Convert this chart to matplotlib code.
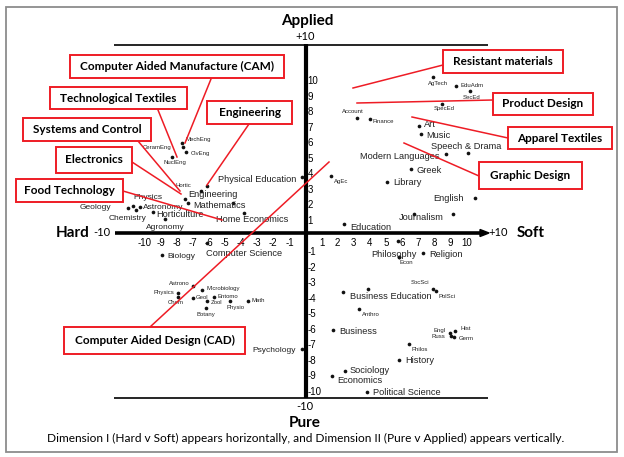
import matplotlib
matplotlib.use("Agg")
import matplotlib.pyplot as plt
from matplotlib.patches import Rectangle, Polygon

# ---------------- data (Hard(-)/Soft(+) , Pure(-)/Applied(+)) ----------------
subjects = [
    "MechEng", "CeramEng", "CivEng", "NuclEng", "Physical Education", "Hortic",
    "Engineering", "", "Mathematics", "", "Home Economics", "Geology", "Physics",
    "Chemistry", "Astronomy", "Horticulture", "Agronomy",
    "Computer Science", "Biology", "Astrono", "Physics", "Chem", "Microbiology",
    "Geol", "Entomo", "Zool", "Physio", "Math", "Botany", "Psychology",
    "AgTech", "EduAdm", "SecEd", "SpecEd", "Account", "Finance", "Art", "Music",
    "Speech & Drama", "Modern Languages", "Greek", "AgEc", "Library", "English",
    "Journalism", "", "Education",
    "", "Philosophy", "Econ", "Religion", "SocSci", "PolSci", "Business Education",
    "", "Anthro", "Business", "Engl", "Hist", "Russ", "Germ", "Philos", "History",
    "Sociology", "Economics", "Political Science",
]
hard_soft = [
    -7.7, -7.6, -7.4, -8.3, -0.2, -6.1,
    -6.5, -7.5, -7.3, -4.5, -3.8, -11.0, -10.7,
    -10.5, -10.3, -9.5, -8.7,
    -6.1, -8.9, -7.0, -7.9, -7.9, -6.4,
    -7.0, -5.7, -6.1, -4.7, -3.6, -6.2, -0.2,
    7.9, 9.35, 10.2, 8.5, 3.2, 4.0, 7.05, 7.2,
    10.1, 8.7, 6.55, 1.6, 5.05, 10.5,
    6.75, 9.15, 2.4,
    5.75, 5.8, 5.8, 7.3, 7.9, 8.1, 2.3,
    3.9, 3.3, 1.7, 9.0, 9.3, 9.05, 9.2, 6.4, 5.8,
    2.45, 1.65, 3.8,
]
pure_applied = [
    5.8, 5.5, 5.2, 4.9, 3.6, 3.0,
    2.7, 2.2, 1.9, 1.9, 1.3, 1.6, 1.75,
    1.5, 1.65, 1.35, 0.9,
    -0.65, -1.4, -3.4, -3.85, -4.1, -3.65,
    -4.2, -4.1, -4.35, -4.35, -4.35, -4.8, -7.45,
    10.0, 9.45, 9.1, 8.3, 7.4, 7.35, 6.9, 6.35,
    5.15, 5.1, 4.1, 3.65, 3.3, 2.25,
    1.2, 1.2, 0.6,
    -0.5, -1.55, -1.55, -1.3, -3.6, -3.75, -3.8,
    -3.6, -4.9, -6.25, -6.45, -6.3, -6.6, -6.7, -7.15, -8.15,
    -8.85, -9.2, -10.25,
]
ticks_neg = [-10, -9, -8, -7, -6, -5, -4, -3, -2, -1]
ticks_pos = [1, 2, 3, 4, 5, 6, 7, 8, 9, 10]

callout_labels = [
    "Computer Aided Manufacture (CAM)", "Technological Textiles", "Engineering",
    "Systems and Control", "Electronics", "Food Technology",
    "Computer Aided Design (CAD)", "Resistant materials", "Product Design",
    "Apparel Textiles", "Graphic Design",
]
caption = ("Dimension I (Hard v Soft) appears horizontally, and Dimension II "
           "(Pure v Applied) appears vertically.")

# ---------------- layout ----------------
W, H = 624, 457
X0, Y0, SX, SY = 305.5, 233.0, 16.1, 15.55


def P(px, py):
    return ((px - X0) / SX, (Y0 - py) / SY)


SIZES = {"t": 4.3, "s": 6.0, "m": 6.7}
label_layout = [
    (4, -3, "left", "t"), (-12, 0, "right", "t"), (4, 1, "left", "t"), (-8, 6, "left", "t"),
    (-6, 2, "right", "m"), (-16, -1, "right", "t"),
    (-13, 3, "left", "m"), None, (5, 2, "left", "m"), None, (8, 7, "center", "m"),
    (-17, -1, "right", "s"), (0, -8, "left", "s"),
    (-9, 9, "center", "s"), (3, 0, "left", "s"), (4, 2, "left", "m"), (0, 8, "center", "s"),
    (37, 10, "center", "m"), (5, 2, "left", "s"), (-3, -2, "right", "t"), (-4, 0, "right", "t"),
    (-3, 6, "center", "t"), (4, -1, "left", "t"),
    (3, -1, "left", "t"), (4, 0, "left", "t"), (3, 2, "left", "t"), (6, 7, "center", "t"),
    (4, 0, "left", "t"), (0, 7, "center", "t"), (-6, 2, "right", "s"),
    (5, 6, "center", "t"), (4, -1, "left", "t"), (2, 6, "center", "t"), (2, 5, "center", "t"),
    (-4, -6, "center", "t"), (3, 3, "left", "t"), (5, -1, "left", "m"), (5, 1, "left", "m"),
    (-2, -6, "center", "m"), (-6, 3, "right", "m"), (6, 1, "left", "m"), (3, 5, "left", "t"),
    (6, 1, "left", "m"), (-11, 0, "right", "m"),
    (7, 3, "center", "m"), None, (6, 4, "left", "m"),
    None, (-5, -3, "center", "m"), (7, 5, "center", "t"), (6, 1, "left", "m"),
    (-13, -6, "center", "t"), (3, 5, "left", "t"), (7, 4, "left", "m"),
    None, (3, 5, "left", "t"), (6, 1, "left", "m"), (-5, -3, "right", "t"), (5, -2, "left", "t"),
    (-6, 1, "right", "t"), (5, 1, "left", "t"), (3, 5, "left", "t"), (6, 1, "left", "m"),
    (5, 0, "left", "m"), (5, 4, "left", "m"), (6, 0, "left", "m"),
]
# callout boxes (px rect) and leader lines (px)
callout_layout = [
    ((70, 55, 284, 78), (211, 79, 185, 143)),
    ((50, 87, 187, 109), (158, 110, 177, 157)),
    ((207, 101, 292, 124), (249, 124, 207, 185)),
    ((23, 118, 151, 141), (138, 141, 180, 191)),
    ((56, 147, 132, 173), (132, 162, 181, 194)),
    ((16, 179, 123, 202), (123, 191, 222, 220)),
    ((64, 327, 245, 354), (150, 327, 329, 162)),
    ((443, 50, 563, 73), (443, 65, 353, 88)),
    ((493, 93, 593, 115), (493, 100, 357, 103)),
    ((508, 127, 612, 149), (508, 138, 412, 117)),
    ((479, 162, 582, 189), (479, 176, 404, 143)),
]

RED = "#ee1c25"
LABEL_FONT = "Liberation Sans"
BOX_FONT = "Lato"

fig = plt.figure(figsize=(W / 100, H / 100), dpi=100)
ax = fig.add_axes([0, 0, 1, 1])
x_lo, y_hi = P(0, 0)
x_hi, y_lo = P(W, H)
ax.set_xlim(x_lo, x_hi)
ax.set_ylim(y_lo, y_hi)
ax.axis("off")

# outer border
fig.patches.append(Rectangle((6 / W, 1 - 452 / H), 611 / W, 445 / H, transform=fig.transFigure,
                             fill=False, edgecolor="#8c8c8c", linewidth=1.3))

# frame lines
for py in (45, 398):
    a, b = P(114, py), P(488, py)
    ax.plot([a[0], b[0]], [a[1], b[1]], color="black", lw=1.2, solid_capstyle="butt")
a, b = P(X0, 44), P(X0, 398)
ax.plot([a[0], b[0]], [a[1], b[1]], color="black", lw=3.0, solid_capstyle="butt")
a, b = P(115, Y0), P(481, Y0)
ax.plot([a[0], b[0]], [a[1], b[1]], color="black", lw=2.6, solid_capstyle="butt")
ax.add_patch(Polygon([P(480, Y0 - 3.5), P(489, Y0), P(480, Y0 + 3.5)], closed=True,
                     color="black"))

# axis tick labels
for v in ticks_neg + ticks_pos:
    ax.text(v, 0, str(v), ha="center", va="center", fontsize=7, family=LABEL_FONT,
            transform=ax.transData + matplotlib.transforms.ScaledTranslation(0, -10 / 100, fig.dpi_scale_trans))
    ax.text(0, v, str(v), ha="left", va="center", fontsize=7, family=LABEL_FONT,
            transform=ax.transData + matplotlib.transforms.ScaledTranslation(2 / 100, -3.5 / 100, fig.dpi_scale_trans))

# titles
ax.text(*P(307, 21), "Applied", ha="center", va="center", fontsize=11, fontweight="bold", family=BOX_FONT)
ax.text(*P(305, 36), "+10", ha="center", va="center", fontsize=8, family=BOX_FONT)
ax.text(*P(305, 407), "-10", ha="center", va="center", fontsize=8, family=BOX_FONT)
ax.text(*P(305, 423), "Pure", ha="center", va="center", fontsize=11, fontweight="bold", family=BOX_FONT)
ax.text(*P(90, 233), "Hard", ha="right", va="center", fontsize=11, fontweight="bold", family=BOX_FONT)
ax.text(*P(93, 233), "-10", ha="left", va="center", fontsize=8, family=BOX_FONT)
ax.text(*P(488, 233), "+10", ha="left", va="center", fontsize=8, family=BOX_FONT)
ax.text(*P(517, 233), "Soft", ha="left", va="center", fontsize=11, fontweight="bold", family=BOX_FONT)
ax.text(*P(306, 438), caption, ha="center", va="center", fontsize=8.6, family=BOX_FONT)

# data points
ax.scatter(hard_soft, pure_applied, s=7, color="#111111", zorder=3, linewidths=0)
for name, x, y, lay in zip(subjects, hard_soft, pure_applied, label_layout):
    if not name or lay is None:
        continue
    dx, dy, ha, sz = lay
    ax.annotate(name, (x, y), xytext=(dx, -dy), textcoords="offset pixels", ha=ha,
                va="center", fontsize=SIZES[sz], family=LABEL_FONT, color="#222222", zorder=4)

# callouts
for text, (box, line) in zip(callout_labels, callout_layout):
    x0, y0, x1, y1 = box
    a, b = P(line[0], line[1]), P(line[2], line[3])
    ax.plot([a[0], b[0]], [a[1], b[1]], color=RED, lw=1.1, zorder=5)
    p0 = P(x0, y1)
    p1 = P(x1, y0)
    ax.add_patch(Rectangle(p0, p1[0] - p0[0], p1[1] - p0[1], facecolor="white",
                           edgecolor=RED, lw=1.4, zorder=6))
    ax.text(*P((x0 + x1) / 2, (y0 + y1) / 2), text, ha="center", va="center",
            fontsize=8.5, fontweight="bold", family=BOX_FONT, zorder=7)

fig.savefig("out.png", dpi=100)
